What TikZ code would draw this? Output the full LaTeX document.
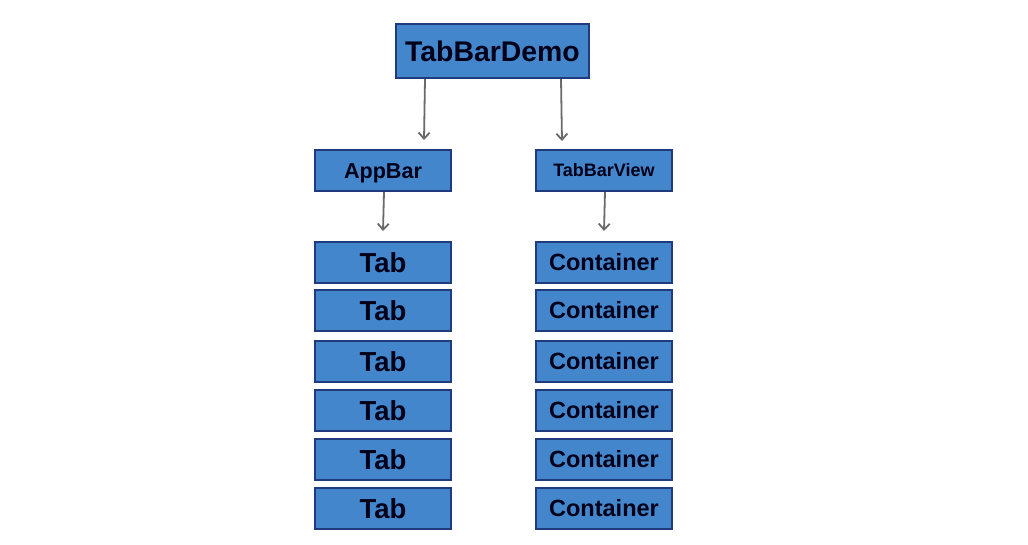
\documentclass[tikz,border=0pt]{standalone}
\usepackage{fontspec}
\setmainfont{Liberation Sans}
\usetikzlibrary{arrows.meta,positioning}
\definecolor{boxfill}{HTML}{4386CC}
\definecolor{boxline}{HTML}{1F3A7D}
\definecolor{linkgray}{HTML}{6A6A6A}
\tikzset{
    widget/.style={draw=boxline, line width=2pt, fill=boxfill, text=black!90!blue,
        minimum width=136pt, minimum height=41pt, inner sep=0pt, font=\bfseries},
    link/.style={-{Straight Barb[length=6pt, width=11pt, line width=1.8pt]}, line width=1.8pt, linkgray}
}

\begin{document}
\begin{tikzpicture}[x=1pt, y=-1pt]
            \useasboundingbox (0,0) rectangle (1028,545);
            \node[widget, minimum width=193pt, minimum height=54pt, font=\fontsize{28.4}{30}\bfseries\selectfont] (root) at (492.5,51) {TabBarDemo};
            \node[widget, text depth=0pt, text height=15.5pt, font=\fontsize{21.6}{24}\bfseries\selectfont] (appbar) at (383,170.5) {AppBar};
            \node[widget, font=\fontsize{18}{20}\bfseries\selectfont] (view) at (604,170.5) {TabBarView};
            
            \foreach \y [count=\i] in {262.5,310.5,361.5,410.5,459.5,508.5} {
                \node[widget, font=\fontsize{27.5}{30}\bfseries\selectfont] (tab\i) at (383,\y) {Tab};
                \node[widget, font=\fontsize{23.5}{26}\bfseries\selectfont] (box\i) at (604,\y) {Container};
            }
            
            \draw[link] ([xshift=-67.5pt]root.south) -- ([xshift=41pt,yshift=9pt]appbar.north);
            \draw[link] ([xshift=68.5pt]root.south) -- ([xshift=-42pt,yshift=8pt]view.north);
            \draw[link] ([xshift=1pt]appbar.south) -- ([yshift=10pt]tab1.north);
            \draw[link] ([xshift=1pt]view.south) -- ([yshift=10pt]box1.north);
        \end{tikzpicture}
\end{document}
